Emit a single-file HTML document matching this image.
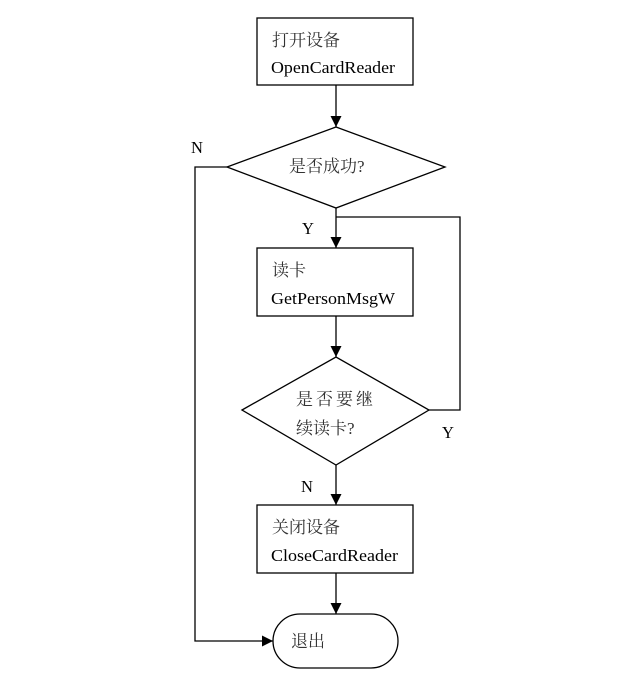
<!DOCTYPE html>
<html><head><meta charset="utf-8"><style>
html,body{margin:0;padding:0;background:#fff;width:640px;height:692px;overflow:hidden}
text{font-family:"Liberation Serif","Noto Serif CJK SC",serif;fill:#000}
.cn{font-size:17px;fill:#333}
.en{font-size:16.5px}
</style></head><body>
<svg width="640" height="692" viewBox="0 0 640 692" xmlns="http://www.w3.org/2000/svg">
<defs><marker id="a" markerWidth="12" markerHeight="12" refX="11" refY="5.5" orient="auto" markerUnits="userSpaceOnUse"><path d="M0,0 L11,5.5 L0,11 z" fill="#000"/></marker></defs>
<g fill="none" stroke="#000" stroke-width="1.3">
<rect x="257" y="18" width="156" height="67"/>
<polygon points="227,167 336,127 445,167 336,208"/>
<rect x="257" y="248" width="156" height="68"/>
<polygon points="242,410 336,357 429,410 336,465"/>
<rect x="257" y="505" width="156" height="68"/>
<rect x="273" y="614" width="125" height="54" rx="27" ry="27"/>
<path d="M336,85 V127" marker-end="url(#a)"/>
<path d="M336,208 V248" marker-end="url(#a)"/>
<path d="M336,316 V357" marker-end="url(#a)"/>
<path d="M336,465 V505" marker-end="url(#a)"/>
<path d="M336,573 V614" marker-end="url(#a)"/>
<path d="M336,217 H460 V410 H429"/>
<path d="M227,167 H195 V641 H273" marker-end="url(#a)"/>
</g>
<text class="cn" x="272" y="46">打开设备</text>
<text class="en" x="271" y="73" textLength="124" lengthAdjust="spacingAndGlyphs">OpenCardReader</text>
<text class="cn" x="289" y="172">是否成功?</text>
<text class="en" x="191" y="153">N</text>
<text class="en" x="302" y="234">Y</text>
<text class="cn" x="272" y="276">读卡</text>
<text class="en" x="271" y="304" textLength="124" lengthAdjust="spacingAndGlyphs">GetPersonMsgW</text>
<text class="cn" x="296" y="405" letter-spacing="3">是否要继</text>
<text class="cn" x="296" y="434">续读卡?</text>
<text class="en" x="442" y="438">Y</text>
<text class="en" x="301" y="492">N</text>
<text class="cn" x="272" y="533">关闭设备</text>
<text class="en" x="271" y="561" textLength="127" lengthAdjust="spacingAndGlyphs">CloseCardReader</text>
<text class="cn" x="291" y="647">退出</text>
</svg>
</body></html>
